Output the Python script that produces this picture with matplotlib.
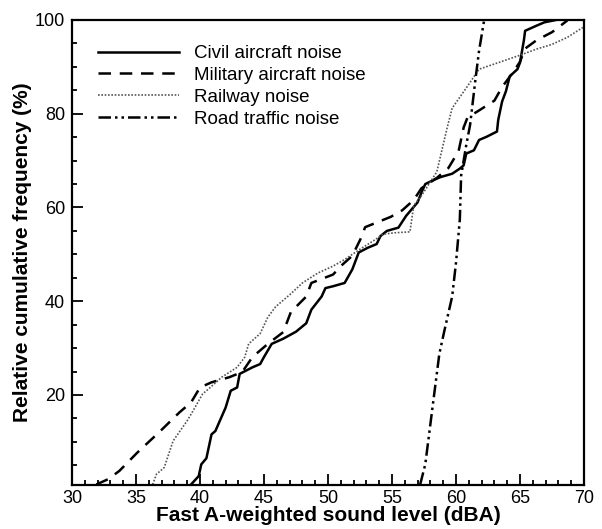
import matplotlib
matplotlib.use("Agg")
import matplotlib.pyplot as plt
from matplotlib.ticker import MultipleLocator

plt.rcParams['font.family'] = ['Liberation Sans', 'DejaVu Sans']

civil_x = [39.3, 39.9, 40.1, 40.5, 40.9, 41.2, 42.0, 42.4, 42.9, 43.1, 44.1, 44.7, 45.0, 45.6, 46.5,
           47.5, 48.3, 48.7, 49.5, 49.8, 50.4, 51.3, 51.9, 52.4, 53.1, 53.8, 54.1, 54.6, 55.5, 56.1,
           57.0, 57.3, 57.6, 58.2, 58.8, 59.7, 60.3, 60.6, 60.8, 61.4, 61.8, 62.4, 63.2, 63.3, 63.6,
           63.9, 64.2, 64.8, 65.0, 65.3, 65.4, 66.3, 66.9, 67.8]
civil_y = [0.9, 2.7, 5.2, 6.5, 11.6, 12.3, 17.3, 20.9, 21.6, 24.5, 25.9, 26.6, 28.1, 30.9, 32.0,
           33.5, 35.3, 38.2, 41.0, 42.8, 43.2, 43.9, 46.8, 50.4, 51.4, 52.2, 53.9, 55.0, 55.7, 58.2,
           61.1, 63.2, 65.0, 65.8, 66.5, 67.2, 68.3, 69.0, 71.5, 72.2, 74.4, 75.1, 76.2, 78.7, 82.6,
           84.8, 88.0, 89.5, 90.9, 95.6, 97.7, 98.8, 99.5, 100.0]

military_x = [31.9, 32.8, 33.7, 35.1, 36.9, 38.4, 39.3, 40.0, 40.9, 42.3, 43.3, 44.1, 45.3, 46.5,
              47.1, 48.3, 48.7, 50.4, 51.0, 51.9, 52.6, 52.9, 53.9, 54.9, 55.8, 56.7, 57.3, 58.5,
              59.4, 60.2, 60.6, 60.9, 61.8, 63.0, 63.6, 64.5, 65.0, 65.4, 66.3, 67.5, 68.7]
military_y = [0.9, 2.0, 3.8, 7.7, 12.3, 16.3, 18.4, 21.6, 22.7, 23.8, 24.9, 28.1, 30.9, 33.4,
              37.7, 41.0, 43.9, 45.7, 47.5, 49.7, 53.6, 55.8, 56.9, 58.0, 59.4, 61.6, 64.1, 66.3,
              68.4, 72.0, 77.1, 79.2, 80.7, 82.8, 85.7, 89.0, 91.1, 93.9, 95.7, 97.4, 99.9]

railway_x = [36.3, 36.6, 37.2, 37.9, 39.0, 39.6, 40.2, 40.8, 41.7, 42.9, 43.5, 43.8, 44.7, 45.3,
             45.9, 47.1, 48.0, 49.2, 50.4, 51.3, 52.5, 53.5, 54.3, 55.2, 56.4, 56.7, 57.3, 58.5,
             59.3, 59.7, 60.8, 61.8, 63.3, 64.8, 66.3, 67.5, 68.7, 69.9]
railway_y = [0.9, 3.1, 4.5, 10.2, 14.5, 17.3, 20.2, 21.6, 23.8, 25.9, 28.1, 30.9, 33.1, 36.6,
             38.8, 41.6, 43.9, 46.0, 47.5, 48.9, 51.1, 52.8, 54.3, 54.6, 54.8, 60.4, 62.5, 67.6,
             76.9, 81.2, 85.5, 89.5, 90.9, 92.3, 93.8, 94.8, 96.3, 98.4]

road_x = [57.2, 57.6, 58.2, 58.7, 59.1, 59.7, 60.0, 60.3, 60.4, 60.8, 61.1, 61.5, 61.8, 62.2]
road_y = [0.9, 5.2, 18.1, 28.8, 33.8, 41.0, 48.2, 57.5, 66.8, 73.3, 77.6, 86.9, 93.4, 100.0]

labels = ["Civil aircraft noise", "Military aircraft noise", "Railway noise", "Road traffic noise"]
x_ticks = [30, 35, 40, 45, 50, 55, 60, 65, 70]
y_ticks = [20, 40, 60, 80, 100]

fig = plt.figure(figsize=(6.02, 5.29), dpi=100)
ax = fig.add_axes([72/602, 44.5/529, 512/602, 464.5/529])

ax.plot(civil_x, civil_y, color='black', lw=1.8, ls='-', label=labels[0])
ax.plot(military_x, military_y, color='black', lw=1.8, dashes=(5, 3.5), label=labels[1])
ax.plot(railway_x, railway_y, color='#555555', lw=1.2, dashes=(1, 1), label=labels[2])
ax.plot(road_x, road_y, color='black', lw=1.8, dashes=(5, 1.6, 1, 1.6, 1, 1.6), label=labels[3])

ax.set_xlim(30, 70)
ax.set_ylim(0.9, 100)
ax.set_xticks(x_ticks)
ax.set_yticks(y_ticks)
ax.xaxis.set_minor_locator(MultipleLocator(1))
ax.yaxis.set_minor_locator(MultipleLocator(5))
ax.tick_params(which='both', direction='in', top=False, right=False, width=1.3, labelsize=13)
ax.tick_params(axis='x', pad=4)
ax.tick_params(axis='y', pad=5)
ax.tick_params(which='major', length=8)
ax.tick_params(which='minor', length=3.6)
for s in ax.spines.values():
    s.set_linewidth(1.6)

ax.set_xlabel("Fast A-weighted sound level (dBA)", fontsize=15, fontweight='bold')
ax.set_ylabel("Relative cumulative frequency (%)", fontsize=15, fontweight='bold')
ax.xaxis.set_label_coords(0.5, -0.046)
ax.yaxis.set_label_coords(-0.078, 0.5)

leg = ax.legend(loc='upper left', bbox_to_anchor=(0.051, 0.946), frameon=False, fontsize=13.5,
                handlelength=4.3, handletextpad=0.8, labelspacing=0.25, borderaxespad=0,
                borderpad=0)

fig.savefig("out.png", dpi=100)
